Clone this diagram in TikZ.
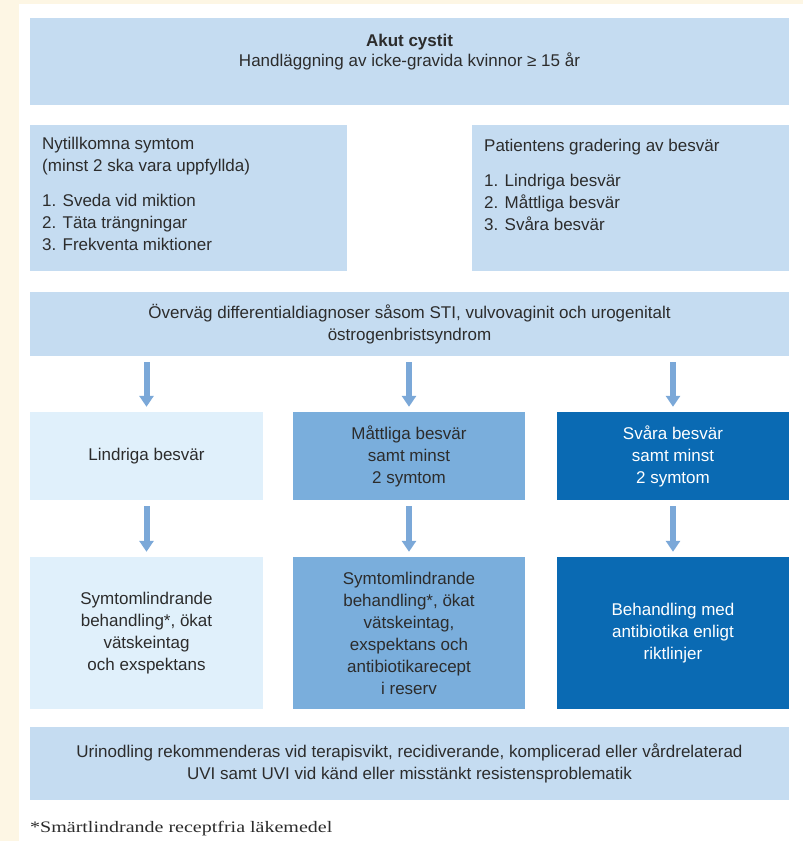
\documentclass[tikz,border=0pt]{standalone}
\usepackage{fontspec}
\setmainfont{Liberation Sans}
\newfontfamily\notefont[FakeStretch=1.25]{Liberation Serif}
\usetikzlibrary{arrows.meta}
\definecolor{cream}{HTML}{FDF6E4}
\definecolor{lightbox}{HTML}{C5DCF1}
\definecolor{palebox}{HTML}{E0F0FB}
\definecolor{midbox}{HTML}{7AAEDC}
\definecolor{darkbox}{HTML}{0A6AB3}
\definecolor{arrowblue}{HTML}{7BA8D8}
\definecolor{txt}{HTML}{2C2C2C}
\begin{document}
\begin{tikzpicture}[x=1pt,y=-1pt,
  boxbase/.style={rectangle, inner sep=0pt, align=center, text=txt,
    font=\fontsize{17}{22}\selectfont},
  widebox/.style={boxbase, fill=lightbox, minimum width=759pt},
  sidebox/.style={boxbase, fill=lightbox, minimum width=317pt, minimum height=146pt},
  colbox/.style={boxbase, minimum width=232pt},
  plaintext/.style={inner sep=0pt, text=txt, font=\fontsize{17}{22}\selectfont},
  flowarrow/.style={draw=arrowblue, line width=6pt,
    -{Triangle[width=14pt,length=11pt]}, shorten <=6pt, shorten >=5pt}]
\fill[cream] (0,0) rectangle (803,841);
\fill[white] (19,4) rectangle (803,841);
\useasboundingbox (0,0) rectangle (803,841);

% header
\node[widebox, minimum height=87pt] (top) at (409.5,61.5) {};
\node[plaintext, align=center, font=\fontsize{17}{20}\selectfont] (toptext) at (409.5,52)
  {\textbf{Akut cystit}\\Handläggning av icke-gravida kvinnor ≥ 15 år};

% side boxes
\node[sidebox] (sym) at (188.5,198) {};
\node[plaintext, align=left, anchor=north west] (symtext) at (42,137)
  {Nytillkomna symtom\\(minst 2 ska vara uppfyllda)\\[13pt]1. Sveda vid miktion\\2. Täta trängningar\\3. Frekventa miktioner};
\node[sidebox] (grad) at (630.5,198) {};
\node[plaintext, align=left, anchor=north west] (gradtext) at (484,139)
  {Patientens gradering av besvär\\[13pt]1. Lindriga besvär\\2. Måttliga besvär\\3. Svåra besvär};

% differential diagnosis
\node[widebox, minimum height=64pt] (diff) at (409.5,324)
  {Överväg differentialdiagnoser såsom STI, vulvovaginit och urogenitalt\\östrogenbristsyndrom};

% row 1
\node[colbox, fill=palebox, minimum height=88pt, minimum width=233pt] (l1) at (146.5,456) {Lindriga besvär};
\node[colbox, fill=midbox, minimum height=88pt] (m1) at (409,456) {Måttliga besvär\\samt minst\\2 symtom};
\node[colbox, fill=darkbox, text=white, minimum height=88pt] (s1) at (673,456) {Svåra besvär\\samt minst\\2 symtom};

% row 2
\node[colbox, fill=palebox, minimum height=152pt, minimum width=233pt] (l2) at (146.5,633)
  {Symtomlindrande\\behandling*, ökat\\vätskeintag\\och exspektans};
\node[colbox, fill=midbox, minimum height=152pt] (m2) at (409,633)
  {Symtomlindrande\\behandling*, ökat\\vätskeintag,\\exspektans och\\antibiotikarecept\\i reserv};
\node[colbox, fill=darkbox, text=white, minimum height=152pt] (s2) at (673,633)
  {Behandling med\\antibiotika enligt\\riktlinjer};

% bottom
\node[widebox, minimum height=73pt] (bottom) at (409.5,763.5)
  {Urinodling rekommenderas vid terapisvikt, recidiverande, komplicerad eller vårdrelaterad\\UVI samt UVI vid känd eller misstänkt resistensproblematik};

\node[inner sep=0pt, anchor=base west, text=txt, font=\notefont\fontsize{16}{18}\selectfont] (note) at (30,832)
  {*Smärtlindrande receptfria läkemedel};

% arrows
\draw[flowarrow] (diff.south -| l1.north) -- (l1.north);
\draw[flowarrow] (diff.south -| m1.north) -- (m1.north);
\draw[flowarrow] (diff.south -| s1.north) -- (s1.north);
\draw[flowarrow] (l1) -- (l2);
\draw[flowarrow] (m1) -- (m2);
\draw[flowarrow] (s1) -- (s2);
\end{tikzpicture}
\end{document}
